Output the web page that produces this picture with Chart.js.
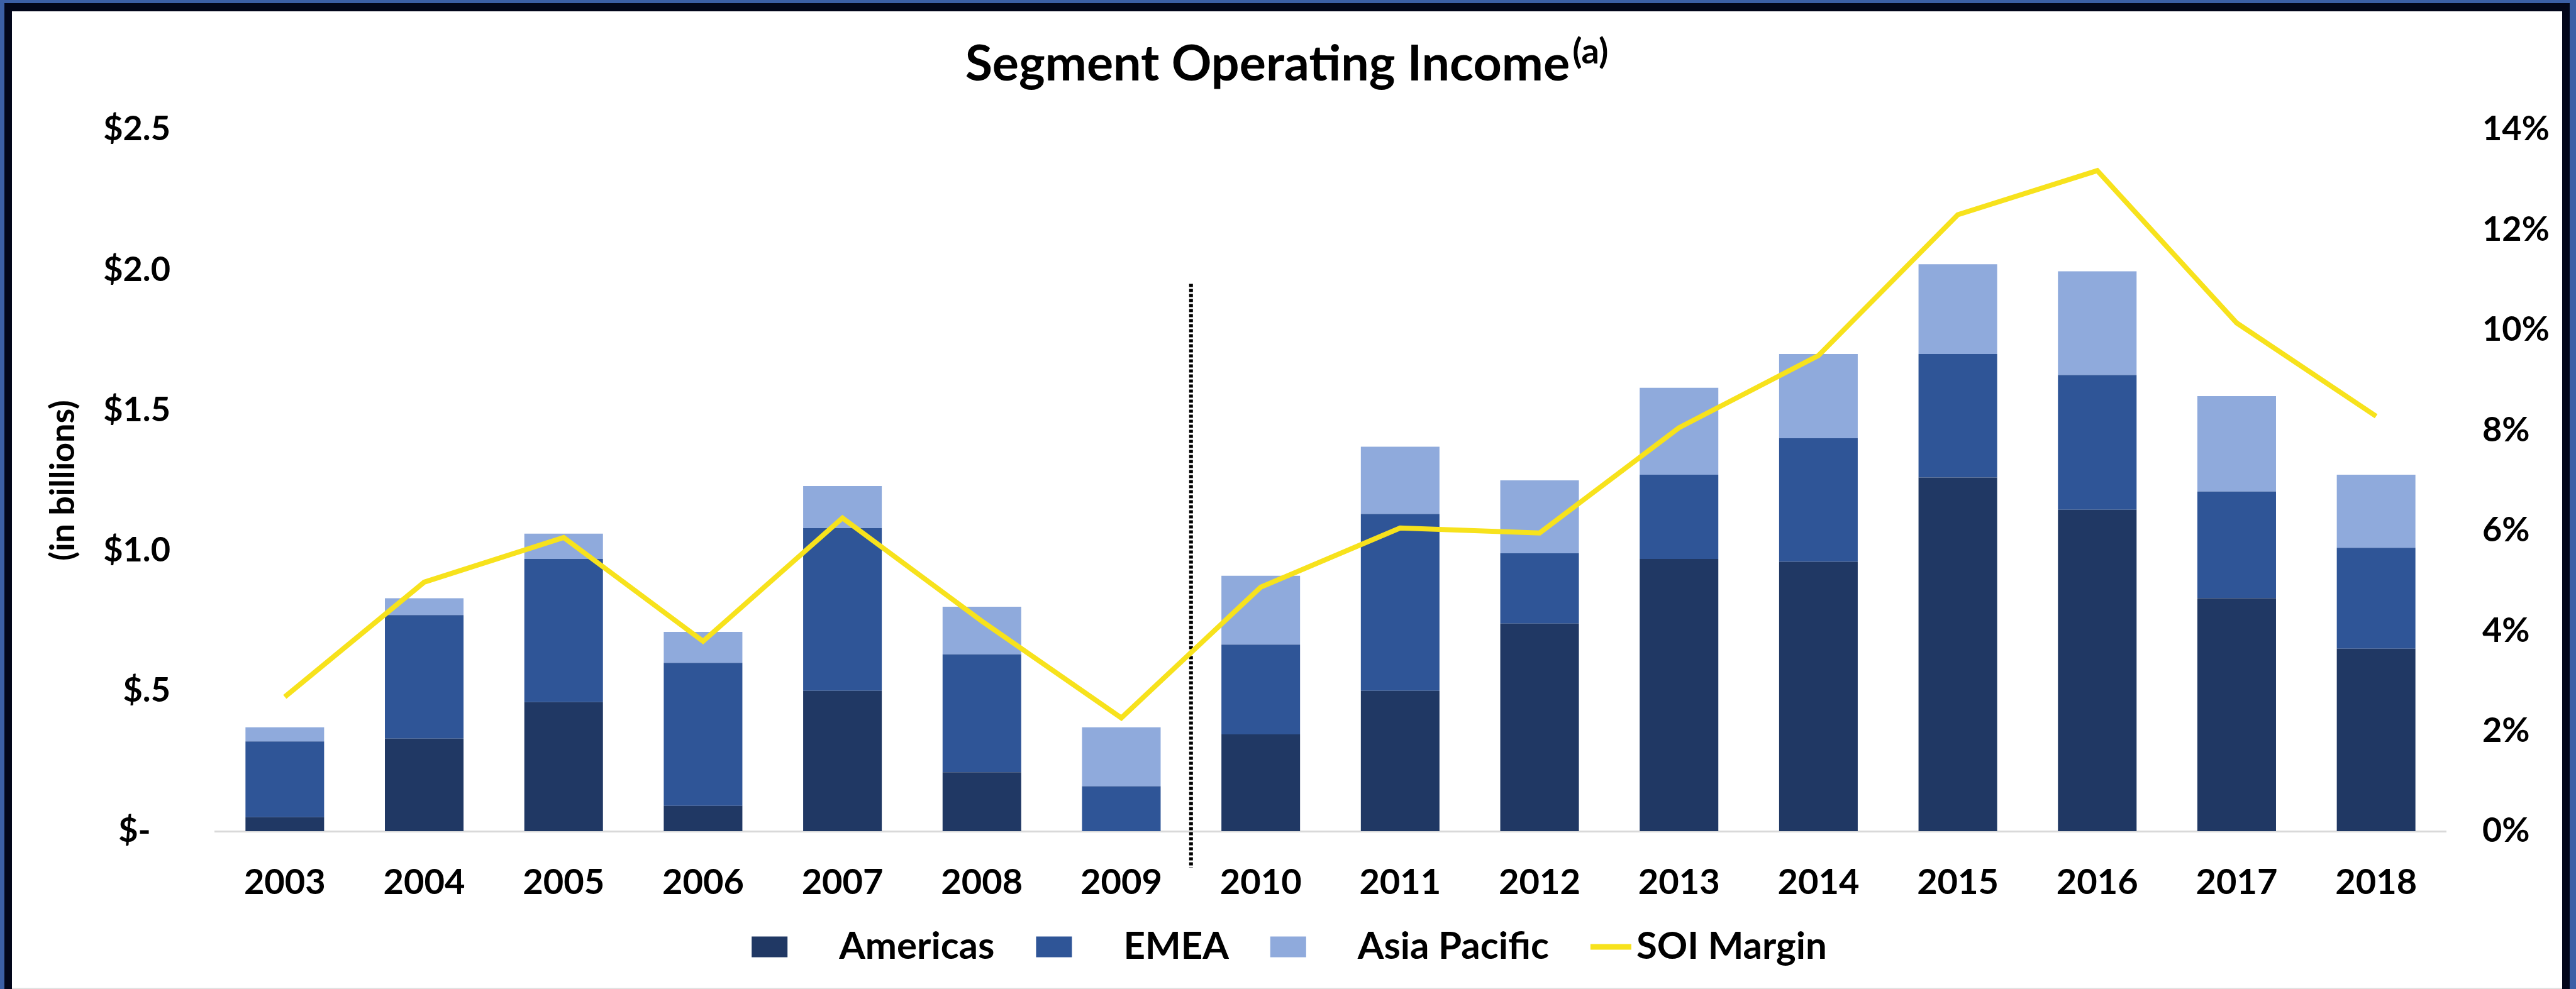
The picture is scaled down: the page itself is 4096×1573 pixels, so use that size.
<!DOCTYPE html>
<html>
<head>
<meta charset="utf-8">
<script src="https://cdn.jsdelivr.net/npm/chart.js@4/dist/chart.umd.min.js"></script>
<style>
  html, body { margin: 0; padding: 0; background: #ffffff; overflow: hidden; }
  #wrap { width: 4096px; height: 1573px; position: relative; }
  canvas { display: block; }
</style>
</head>
<body>
<div id="wrap"><canvas id="soi" width="4096" height="1573"></canvas></div>
<script>
// Segment operating income by region ($ billions) and SOI margin (%)
const years = ['2003', '2004', '2005', '2006', '2007', '2008', '2009', '2010',
               '2011', '2012', '2013', '2014', '2015', '2016', '2017', '2018'];
const americas    = [0.05, 0.33, 0.46, 0.09, 0.50, 0.21, 0.00, 0.345, 0.50, 0.74, 0.97, 0.96, 1.26, 1.145, 0.83, 0.65];
const emea        = [0.27, 0.44, 0.51, 0.51, 0.58, 0.42, 0.16, 0.32, 0.63, 0.25, 0.30, 0.44, 0.44, 0.48, 0.38, 0.36];
const asiaPacific = [0.05, 0.06, 0.09, 0.11, 0.15, 0.17, 0.21, 0.245, 0.24, 0.26, 0.31, 0.30, 0.32, 0.37, 0.34, 0.26];
const soiMargin   = [2.68, 4.97, 5.86, 3.79, 6.25, 4.19, 2.26, 4.87, 6.05, 5.95, 8.05, 9.49, 12.3, 13.18, 10.14, 8.28];

const leftTickLabels  = ['$-\u2007', '$.5', '$1.0', '$1.5', '$2.0', '$2.5'];
const rightTickLabels = ['0%', '2%', '4%', '6%', '8%', '10%', '12%', '14%'];
const seriesNames = ['Americas', 'EMEA', 'Asia Pacific', 'SOI Margin'];
const titleText = 'Segment Operating Income';
const titleNote = '(a)';
const axisTitle = '(in billions)';

// divider between 2009 and 2010 (category index position, top value on $ axis)
const dividerAt = 6.5;
const dividerTop = 1.95;

const FONT = 'Lato, "Open Sans", sans-serif';
const colors = {
  americas: '#203864',
  emea: '#2F5597',
  asia: '#8FAADC',
  margin: '#F7E21C',
  frameBlue: '#3B5FA6',
  frameDark: '#02061A'
};

// white page, title and frame
const pagePlugin = {
  id: 'page',
  beforeDraw(chart) {
    const ctx = chart.ctx;
    ctx.save();
    ctx.fillStyle = '#ffffff';
    ctx.fillRect(0, 0, chart.width, chart.height);
    ctx.restore();
  },
  afterDraw(chart) {
    const ctx = chart.ctx;
    const W = chart.width, H = chart.height;
    ctx.save();
    // title with superscript note
    ctx.fillStyle = '#000000';
    ctx.textBaseline = 'alphabetic';
    ctx.textAlign = 'left';
    ctx.font = 'bold 79px ' + FONT;
    const mainW = ctx.measureText(titleText).width;
    ctx.font = 'bold 56px ' + FONT;
    const noteW = ctx.measureText(titleNote).width;
    const x0 = 2046 - (mainW + 4 + noteW) / 2;
    ctx.font = 'bold 79px ' + FONT;
    ctx.fillText(titleText, x0, 128);
    ctx.font = 'bold 56px ' + FONT;
    ctx.fillText(titleNote, x0 + mainW + 4, 101);

    // frame: blue outer edge, dark inner band
    ctx.fillStyle = colors.frameBlue;
    ctx.fillRect(0, 0, W, 5);
    ctx.fillRect(0, 0, 7, H);
    ctx.fillRect(W - 10, 0, 10, H);
    ctx.fillStyle = colors.frameDark;
    ctx.fillRect(7, 5, W - 17, 13);
    ctx.fillRect(7, 5, 12, H - 5);
    ctx.fillRect(W - 22, 5, 12, H - 5);
    ctx.fillStyle = '#e2e2e2';
    ctx.fillRect(19, H - 2, W - 41, 2);
    ctx.restore();
  }
};

// dotted divider between the two periods
const dividerPlugin = {
  id: 'divider',
  beforeDatasetsDraw(chart) {
    const ctx = chart.ctx;
    const x = chart.scales.x.getPixelForValue(dividerAt);
    const yTop = chart.scales.y.getPixelForValue(dividerTop);
    const yBot = chart.chartArea.bottom + 58;
    ctx.save();
    ctx.strokeStyle = '#000000';
    ctx.lineWidth = 6;
    ctx.setLineDash([5, 3]);
    ctx.beginPath();
    ctx.moveTo(x, yTop);
    ctx.lineTo(x, yBot);
    ctx.stroke();
    ctx.restore();
  }
};

// legend row under the axis
const legendPlugin = {
  id: 'legendRow',
  afterDraw(chart) {
    const ctx = chart.ctx;
    ctx.save();
    ctx.font = 'bold 60px ' + FONT;
    ctx.textBaseline = 'middle';
    ctx.textAlign = 'left';
    const boxW = 57, boxH = 33, boxGap = 82, lineW = 65, lineGap = 8, itemGap = 66;
    const items = chart.data.datasets.map(ds => ({
      label: ds.label,
      isLine: ds.type === 'line',
      color: ds.type === 'line' ? ds.borderColor : ds.backgroundColor
    }));
    let total = 0;
    items.forEach((it, i) => {
      it.tw = ctx.measureText(it.label).width;
      it.w = (it.isLine ? lineW + lineGap : boxW + boxGap) + it.tw;
      total += it.w + (i ? itemGap : 0);
    });
    const cy = 1506;
    let x = 2050 - total / 2;
    items.forEach(it => {
      if (it.isLine) {
        ctx.strokeStyle = it.color;
        ctx.lineWidth = 9;
        ctx.beginPath();
        ctx.moveTo(x, cy);
        ctx.lineTo(x + lineW, cy);
        ctx.stroke();
        ctx.fillStyle = '#000000';
        ctx.fillText(it.label, x + lineW + lineGap, cy);
      } else {
        ctx.fillStyle = it.color;
        ctx.fillRect(x, cy - boxH / 2, boxW, boxH);
        ctx.fillStyle = '#000000';
        ctx.fillText(it.label, x + boxW + boxGap, cy);
      }
      x += it.w + itemGap;
    });
    ctx.restore();
  }
};

const tickFont = { family: FONT, size: 54, weight: 'bold' };

new Chart(document.getElementById('soi'), {
  data: {
    labels: years,
    datasets: [
      { type: 'bar', label: seriesNames[0], data: americas, backgroundColor: colors.americas, yAxisID: 'y', stack: 'soi', borderWidth: 0 },
      { type: 'bar', label: seriesNames[1], data: emea, backgroundColor: colors.emea, yAxisID: 'y', stack: 'soi', borderWidth: 0 },
      { type: 'bar', label: seriesNames[2], data: asiaPacific, backgroundColor: colors.asia, yAxisID: 'y', stack: 'soi', borderWidth: 0 },
      { type: 'line', label: seriesNames[3], data: soiMargin, borderColor: colors.margin, backgroundColor: colors.margin,
        borderWidth: 8, pointRadius: 0, tension: 0, yAxisID: 'y1', order: -1 }
    ]
  },
  options: {
    responsive: false,
    animation: false,
    devicePixelRatio: 1,
    layout: { padding: { top: 206, left: 0, right: 0, bottom: 0 } },
    datasets: { bar: { categoryPercentage: 1, barPercentage: 0.564 } },
    plugins: {
      legend: { display: false },
      title: { display: false },
      tooltip: { enabled: false }
    },
    scales: {
      x: {
        stacked: true,
        offset: true,
        grid: { display: false, drawTicks: false },
        border: { display: true, color: '#d9d9d9', width: 3 },
        ticks: { font: { family: FONT, size: 56, weight: 'bold' }, color: '#000000', padding: 48, maxRotation: 0, autoSkip: false },
        afterFit(scale) { scale.height = 251; }
      },
      y: {
        position: 'left',
        stacked: true,
        min: 0, max: 2.5,
        grid: { display: false, drawTicks: false },
        border: { display: false },
        ticks: { stepSize: 0.5, font: tickFont, color: '#000000', padding: 71,
                 callback: (v, i) => leftTickLabels[i] },
        title: { display: true, text: axisTitle, color: '#000000',
                 font: { family: FONT, size: 54, weight: 'bold' }, padding: { top: 68, bottom: 0 } },
        afterFit(scale) { scale.width = 342; }
      },
      y1: {
        position: 'right',
        min: 0, max: 14,
        grid: { display: false, drawTicks: false },
        border: { display: false },
        ticks: { stepSize: 2, font: tickFont, color: '#000000', padding: 58,
                 callback: (v, i) => rightTickLabels[i] },
        afterFit(scale) { scale.width = 207; }
      }
    }
  },
  plugins: [pagePlugin, dividerPlugin, legendPlugin]
});
</script>
</body>
</html>
